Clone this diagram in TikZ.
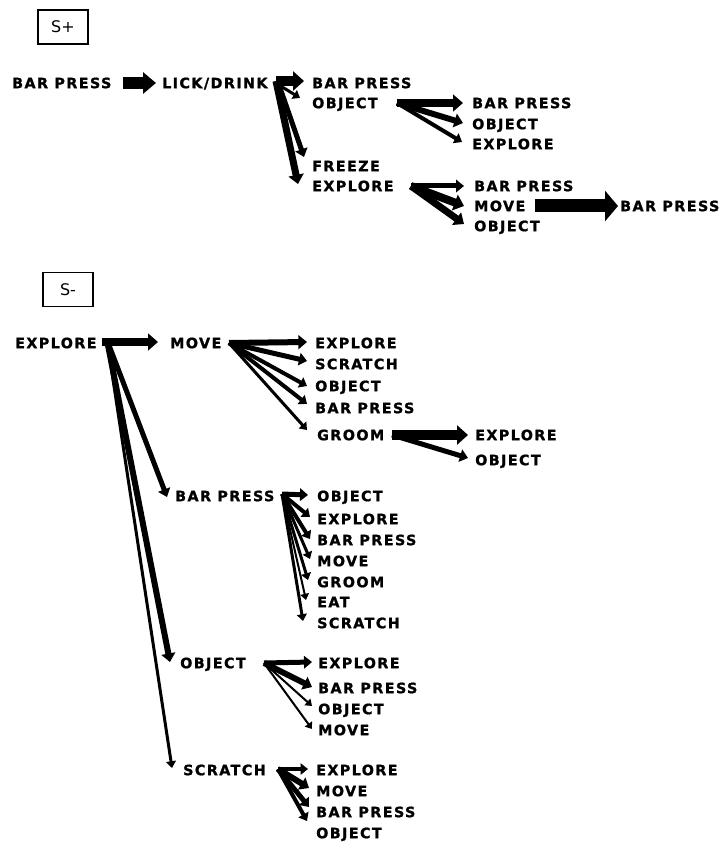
\documentclass[tikz,border=0pt]{standalone}
\usepackage{fontspec}
\setmainfont{DejaVu Sans}
\newfontfamily\lblfont[LetterSpace=10,FakeBold=1.2]{DejaVu Sans Bold}
\usetikzlibrary{arrows.meta,calc}
\begin{document}
\begin{tikzpicture}[x=1pt,y=-1pt,
  lab/.style={anchor=west, inner sep=0pt, font=\lblfont\fontsize{14.3}{15}\selectfont, text height=10.4pt, text depth=0pt},
  sbox/.style={draw, line width=1.6pt, minimum width=50pt, minimum height=34pt, inner sep=0pt, font=\fontsize{16}{17}\selectfont},
  arr/.style={line width=#1, -{Triangle[length=5pt 0.6, width=6pt 1.3]}},
  fat/.style={line width=#1, -{Triangle[length=13pt, width=21pt]}},
  fatter/.style={line width=#1, -{Triangle[length=13pt, width=30pt]}}
]
\useasboundingbox (0,0) rectangle (726,842);
\fill[white] (0,0) rectangle (726,842);

% ---------------- S+ ----------------
\node[sbox] (splus) at (63,27) {S+};
\node[lab] (a1) at (12,83) {BAR PRESS};
\node[lab] (a2) at (162,83) {LICK/DRINK};
\node[lab] (b1) at (312,83) {BAR PRESS};
\node[lab] (b2) at (312,103) {OBJECT};
\node[lab] (b3) at (312,166) {FREEZE};
\node[lab] (b4) at (312,186) {EXPLORE};
\node[lab] (c1) at (472,103) {BAR PRESS};
\node[lab] (c2) at (472,124) {OBJECT};
\node[lab] (c3) at (472,144) {EXPLORE};
\node[lab] (d1) at (474,186) {BAR PRESS};
\node[lab] (d2) at (474,206) {MOVE};
\node[lab] (d3) at (474,226) {OBJECT};
\node[lab] (e1) at (620,206) {BAR PRESS};

\coordinate (pA) at (123,83);
\coordinate (oL) at (276,81);
\coordinate (oLd) at (279,85);
\coordinate (oB) at (397,103);
\coordinate (oD) at (411,186);
\coordinate (pE) at (535,206);

\draw[fat=12pt] (pA) -- ($(a2.west)+(-6,0)$);
\draw[arr=10pt] (oL) -- ($(b1.west)+(-8,-2)$);
\draw[arr=3pt] (oLd) -- ($(b2.west)+(-12,-5)$);
\draw[arr=5pt] (oLd) -- ($(b3.west)+(-8,-9)$);
\draw[arr=7pt] (oL) -- ($(b4.west)+(-14,-2)$);

\draw[arr=8pt] (oB) -- ($(c1.west)+(-9,0)$);
\draw[arr=6pt] (oB) -- ($(c2.west)+(-9,-1)$);
\draw[arr=4pt] (oB) -- ($(c3.west)+(-10,-2)$);

\draw[arr=5pt] (oD) -- ($(d1.west)+(-10,0)$);
\draw[arr=8pt] (oD) -- ($(d2.west)+(-10,0)$);
\draw[arr=7pt] (oD) -- ($(d3.west)+(-10,-2)$);

\draw[fatter=13pt] (pE) -- ($(e1.west)+(-2,0)$);

% ---------------- S- ----------------
\node[sbox] (sminus) at (68,289.5) {S-};
\node[lab] (f1) at (15,343) {EXPLORE};
\node[lab] (g1) at (170,343) {MOVE};
\node[lab] (g2) at (175,496) {BAR PRESS};
\node[lab] (g3) at (180,663) {OBJECT};
\node[lab] (g4) at (183,770) {SCRATCH};

\node[lab] (h1) at (315,343) {EXPLORE};
\node[lab] (h2) at (315,364) {SCRATCH};
\node[lab] (h3) at (315,386) {OBJECT};
\node[lab] (h4) at (315,408) {BAR PRESS};
\node[lab] (h5) at (317,435) {GROOM};

\node[lab] (i1) at (475,435) {EXPLORE};
\node[lab] (i2) at (475,460) {OBJECT};

\node[lab] (j1) at (317,496) {OBJECT};
\node[lab] (j2) at (317,519) {EXPLORE};
\node[lab] (j3) at (317,540) {BAR PRESS};
\node[lab] (j4) at (317,561) {MOVE};
\node[lab] (j5) at (317,582) {GROOM};
\node[lab] (j6) at (317,602) {EAT};
\node[lab] (j7) at (317,623) {SCRATCH};

\node[lab] (k1) at (318,663) {EXPLORE};
\node[lab] (k2) at (318,688) {BAR PRESS};
\node[lab] (k3) at (318,709) {OBJECT};
\node[lab] (k4) at (318,730) {MOVE};

\node[lab] (l1) at (316,770) {EXPLORE};
\node[lab] (l2) at (316,791) {MOVE};
\node[lab] (l3) at (316,812) {BAR PRESS};
\node[lab] (l4) at (316,833) {OBJECT};

\coordinate (oF) at (102,342);
\coordinate (oFd) at (107,340);
\coordinate (oG) at (229,343);
\coordinate (oH) at (392,435);
\coordinate (oJ) at (282,494);
\coordinate (oK) at (264,663);
\coordinate (oM) at (278,769);

\draw[arr=8pt] (oF) -- ($(g1.west)+(-12,-1)$);
\draw[arr=5pt] (oFd) -- ($(g2.west)+(-8,1)$);
\draw[arr=6pt] (oFd) -- ($(g3.west)+(-10,-1)$);
\draw[arr=3pt] (oFd) -- ($(g4.west)+(-11,-2)$);

\draw[arr=6pt] (oG) -- ($(h1.west)+(-8,-1)$);
\draw[arr=5pt] (oG) -- ($(h2.west)+(-8,-3)$);
\draw[arr=4pt] (oG) -- ($(h3.west)+(-8,0)$);
\draw[arr=4pt] (oG) -- ($(h4.west)+(-8,-4)$);
\draw[arr=3pt] (oG) -- ($(h5.west)+(-10,-5)$);

\draw[arr=10pt] (oH) -- ($(i1.west)+(-7,0)$);
\draw[arr=5pt] (oH) -- ($(i2.west)+(-7,-2)$);

\draw[arr=5pt] (oJ) -- ($(j1.west)+(-9,-1)$);
\draw[arr=4pt] (oJ) -- ($(j2.west)+(-7,-2)$);
\draw[arr=4pt] (oJ) -- ($(j3.west)+(-7,-1)$);
\draw[arr=3pt] (oJ) -- ($(j4.west)+(-7,-2)$);
\draw[arr=3pt] (oJ) -- ($(j5.west)+(-9,-2)$);
\draw[arr=2pt] (oJ) -- ($(j6.west)+(-11,-2)$);
\draw[arr=3pt] (oJ) -- ($(j7.west)+(-14,-2)$);

\draw[arr=5pt] (oK) -- ($(k1.west)+(-6,-1)$);
\draw[arr=6pt] (oK) -- ($(k2.west)+(-6,-1)$);
\draw[arr=2pt] (oK) -- ($(k3.west)+(-6,-3)$);
\draw[arr=2pt] (oK) -- ($(k4.west)+(-6,-1)$);

\draw[arr=4pt] (oM) -- ($(l1.west)+(-8,-1)$);
\draw[arr=6pt] (oM) -- ($(l2.west)+(-7,-3)$);
\draw[arr=5pt] (oM) -- ($(l3.west)+(-7,-5)$);
\draw[arr=4pt] (oM) -- ($(l4.west)+(-9,-12)$);
\end{tikzpicture}
\end{document}
